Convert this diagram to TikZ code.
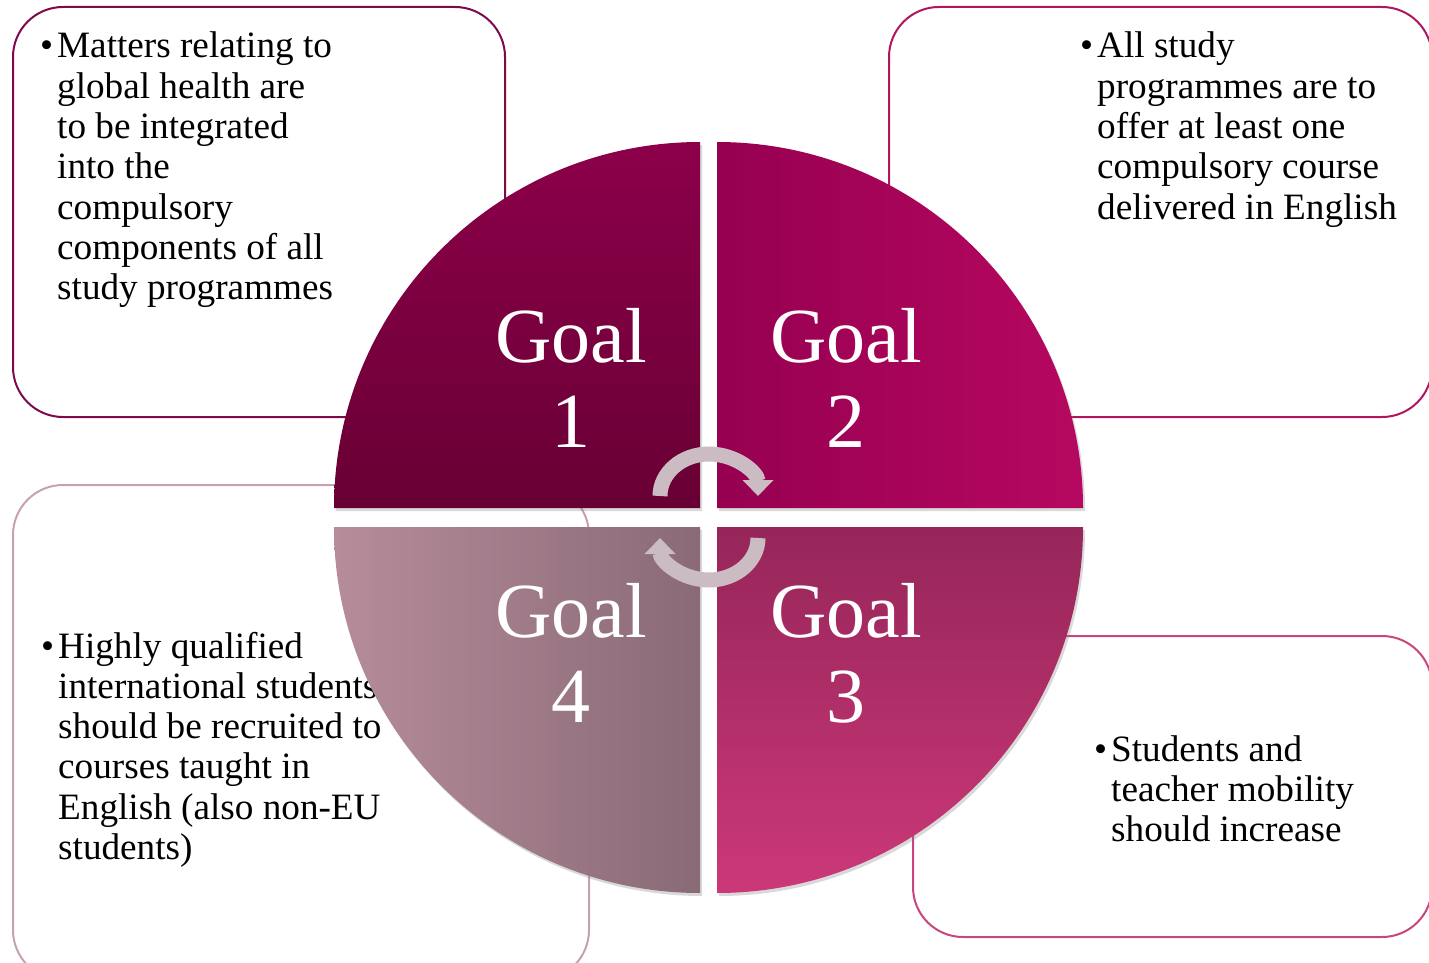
\documentclass[tikz,border=0pt]{standalone}
\usepackage{fontspec}
\setmainfont{Liberation Serif}
\usetikzlibrary{arrows.meta,shadows}

\definecolor{lineone}{HTML}{7D0A4B}
\definecolor{linetwo}{HTML}{B0165F}
\definecolor{linethree}{HTML}{C8457D}
\definecolor{linefour}{HTML}{C4A2B0}
\definecolor{turngray}{HTML}{CBBCC4}

\tikzstyle{box} = [draw, line width=2pt, rounded corners=50pt]
\tikzstyle{note} = [inner sep=0pt, anchor=base west, font=\fontsize{37.2}{40.3}\selectfont]
\tikzstyle{goal} = [inner sep=0pt, anchor=base, text=white, font=\fontsize{78}{85}\selectfont]
\tikzstyle{quarter} = [drop shadow={opacity=0.3, shadow xshift=2pt, shadow yshift=-3pt}]
\tikzstyle{turn} = [draw=turngray, line width=15pt, -{Triangle[width=30pt,length=16pt]}]

\newcommand{\bulletlist}[1]{\makebox[17pt][l]{\textbullet}\begin{tabular}[t]{@{}l@{}}#1\end{tabular}}
\newcommand{\goaltext}[1]{\begin{tabular}[t]{@{}c@{}}Goal\\#1\end{tabular}}

\begin{document}
\begin{tikzpicture}[x=1pt, y=-1pt]
    \useasboundingbox (0,0) rectangle (1429,963);

    % Boxes behind the circle
    \draw[box, lineone] (13,7) rectangle (505,417);
    \draw[box, linetwo] (889,7) rectangle (1432,417);
    \draw[box, linethree] (913,636) rectangle (1432,937);
    \draw[box, linefour] (13,485) rectangle (589,980);

    \node[note] (health) at (40,58) {\bulletlist{Matters relating to\\ global health are\\ to be integrated\\ into the\\ compulsory\\ components of all\\ study programmes}};
    \node[note] (english) at (1080,58) {\bulletlist{All study\\ programmes are to\\ offer at least one\\ compulsory course\\ delivered in English}};
    \node[note] (mobility) at (1094,761) {\bulletlist{Students and\\ teacher mobility\\ should increase}};
    \node[note] (recruit) at (41,658) {\bulletlist{Highly qualified\\ international students\\ should be recruited to\\ courses taught in\\ English (also non-EU\\ students)}};

    % Quarters of the circle
    \shade[quarter, top color={rgb,255:red,140;green,0;blue,74}, bottom color={rgb,255:red,104;green,0;blue,52}]
        (700,508) -- (334,508) arc[start angle=180, end angle=270, radius=366] -- cycle;
    \shade[quarter, left color={rgb,255:red,150;green,0;blue,80}, right color={rgb,255:red,182;green,8;blue,96}]
        (717,508) -- (717,142) arc[start angle=270, end angle=360, radius=366] -- cycle;
    \shade[quarter, top color={rgb,255:red,150;green,38;blue,90}, bottom color={rgb,255:red,204;green,56;blue,120}]
        (717,527) -- (1083,527) arc[start angle=0, end angle=90, radius=366] -- cycle;
    \shade[quarter, left color={rgb,255:red,182;green,140;blue,154}, right color={rgb,255:red,138;green,106;blue,119}]
        (700,527) -- (700,893) arc[start angle=90, end angle=180, radius=366] -- cycle;

    \node[goal] (goal1) at (571,362) {\goaltext{1}};
    \node[goal] (goal2) at (846,362) {\goaltext{2}};
    \node[goal] (goal3) at (846,637) {\goaltext{3}};
    \node[goal] (goal4) at (571,637) {\goaltext{4}};

    % Turning arrows in the middle
    \draw[turn] (660,496) arc[start angle=180, end angle=360, x radius=49, y radius=42];
    \draw[turn] (758,538) arc[start angle=0, end angle=180, x radius=49, y radius=42];
\end{tikzpicture}
\end{document}
